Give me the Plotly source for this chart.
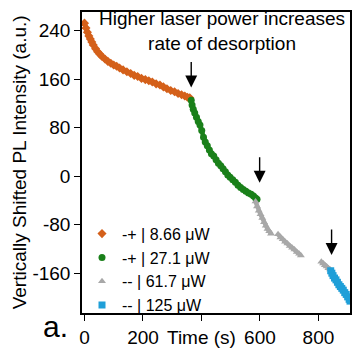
import plotly.graph_objects as go

# ---- data ----
orange_t = [0, 5, 10, 15, 20, 25, 30, 38, 45, 52, 60, 70, 80, 90, 100, 110, 120, 132, 145, 158,
            170, 182, 195, 208, 220, 232, 245, 258, 270, 282, 295, 308, 320, 332, 343, 352, 360]
orange_y = [252, 244, 237, 231, 226, 221, 216, 210, 205, 201, 197, 193, 189, 186, 183, 181, 178, 175, 172, 169,
            166, 164, 161, 159, 157, 155, 152, 150, 147, 144, 141, 139, 136, 134, 132, 130, 129]

green_t = [365, 368, 372, 377, 383, 389, 395, 401, 407, 413, 420, 427, 434, 442, 450, 458, 466, 474,
           482, 490, 498, 507, 516, 525, 534, 543, 552, 561, 570, 578, 585, 590]
green_y = [125, 117, 110, 104, 97, 90, 84, 75, 64, 56, 50, 43, 37, 33, 27, 21, 17, 12,
           7, 2, -2, -6, -10, -15, -19, -22, -25, -28, -30, -33, -36, -38]

gray_t = [585, 590, 596, 602, 608, 614, 620, 626, 632, 638, None,
          662, 670, 678, 686, 694, 702, 710, 718, 726, 734, 740, None,
          810, 816, 822, 828, 834, 840]
gray_y = [-42, -50, -57, -63, -69, -76, -82, -87, -91, -95, None,
          -96, -101, -104, -108, -111, -115, -118, -121, -125, -128, -131, None,
          -141, -144, -147, -149, -152, -154]

blue_t = [842, 846, 850, 855, 860, 865, 870, 875, 880, 885, 890, 895, 900, 905, 908]
blue_y = [-156, -160, -164, -168, -171, -175, -179, -182, -185, -188, -192, -195, -199, -203, -206]

series_names = ["-+ | 8.66 μW", "-+ | 27.1 μW", "-- | 61.7 μW", "-- | 125 μW"]
series_colors = ["#d4601a", "#1a801a", "#a8a8a8", "#1f9fd8"]
series_symbols = ["diamond", "circle", "triangle-up", "square"]

x_tickvals = [0, 200, 400, 600, 800]
x_ticktext = ["0", "200", "Time (s)", "600", "800"]
y_tickvals = [240, 160, 80, 0, -80, -160]
y_ticktext = ["240", "160", "80", "0", "-80", "-160"]
y_title = "Vertically Shifted PL Intensity (a.u.)"

arrow_x = [365, 599, 845]
arrow_y = [146, -11, -130]

FONT = "Liberation Sans, Arial, sans-serif"

fig = go.Figure()
all_t = [orange_t, green_t, gray_t, blue_t]
all_y = [orange_y, green_y, gray_y, blue_y]
# continuous band under the markers (not in legend)
for t, y, col in zip(all_t, all_y, series_colors):
    fig.add_trace(go.Scatter(x=t, y=y, mode="lines", line=dict(color=col, width=4.5),
                             showlegend=False, hoverinfo="skip", connectgaps=False))
for t, y, name, col, sym in zip(all_t, all_y, series_names, series_colors, series_symbols):
    fig.add_trace(go.Scatter(
        x=t, y=y, name=name, mode="markers",
        marker=dict(color=col, size=7, symbol=sym),
    ))

for ax_, ay_ in zip(arrow_x, arrow_y):
    fig.add_annotation(x=ax_, y=ay_, xref="x", yref="y", text="", showarrow=True,
                       ax=0, ay=-27, arrowhead=2, arrowsize=1.7, arrowwidth=1.4,
                       arrowcolor="black")

fig.add_annotation(x=0.522, y=0.937, xref="paper", yref="paper",
                   text="Higher laser power increases<br>rate of desorption",
                   showarrow=False, xanchor="center", yanchor="middle",
                   font=dict(family=FONT, size=19, color="black"))
fig.add_annotation(x=-0.1, y=-0.045, xref="paper", yref="paper", text="a.",
                   showarrow=False, xanchor="center", yanchor="middle",
                   font=dict(family=FONT, size=30, color="black"))
# y-axis title placed as rotated text
fig.add_annotation(x=-0.232, y=0.5, xref="paper", yref="paper", text=y_title,
                   textangle=-90, showarrow=False, xanchor="center", yanchor="middle",
                   font=dict(family=FONT, size=19, color="black"))

fig.update_layout(
    width=355, height=351,
    margin=dict(l=82, r=3, t=12, b=29),
    plot_bgcolor="white", paper_bgcolor="white",
    font=dict(family=FONT, size=19, color="black"),
    showlegend=True,
    legend=dict(x=0.0, y=0.32, xanchor="left", yanchor="top",
                bgcolor="rgba(0,0,0,0)", font=dict(size=16),
                tracegroupgap=0, itemwidth=30),
    xaxis=dict(range=[-8.5, 908], tickvals=x_tickvals, ticktext=x_ticktext,
               ticks="outside", ticklen=6, tickwidth=1.2, tickcolor="black",
               showline=True, linecolor="black", linewidth=1.5, mirror=True,
               showgrid=False, zeroline=False),
    yaxis=dict(range=[-225.6, 270.4], tickvals=y_tickvals, ticktext=y_ticktext,
               ticks="outside", ticklen=6, tickwidth=1.2, tickcolor="black",
               showline=True, linecolor="black", linewidth=1.5, mirror=True,
               showgrid=False, zeroline=False),
)

fig.write_html("out.html")
